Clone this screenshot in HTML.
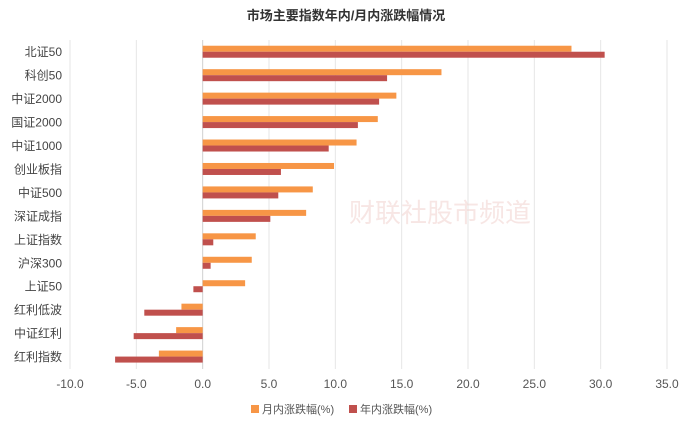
<!DOCTYPE html>
<html><head><meta charset="utf-8"><style>
body{margin:0;background:#fff;font-family:"Liberation Sans","Noto Sans CJK SC",sans-serif;}
</style></head><body>
<svg id="chart" width="692" height="428" xmlns="http://www.w3.org/2000/svg">
<text x="346" y="20" text-anchor="middle" font-size="13" font-weight="bold" fill="#333">市场主要指数年内/月内涨跌幅情况</text>
<g id="grid"></g><g id="bars"></g><g id="labels"></g>
<text x="440" y="222" text-anchor="middle" font-size="26" fill="#f3d6d3" opacity="0.6">财联社股市频道</text>
<g>
<rect x="251" y="405" width="8" height="8" fill="#f79646"/>
<text x="262" y="413" font-size="11" fill="#555">月内涨跌幅(%)</text>
<rect x="349" y="405" width="8" height="8" fill="#c0504d"/>
<text x="360" y="413" font-size="11" fill="#555">年内涨跌幅(%)</text>
</g>
</svg>
<script>
const categories=["北证50","科创50","中证2000","国证2000","中证1000","创业板指","中证500","深证成指","上证指数","沪深300","上证50","红利低波","中证红利","红利指数"];
const monthly=[27.8,18.0,14.6,13.2,11.6,9.9,8.3,7.8,4.0,3.7,3.2,-1.6,-2.0,-3.3];
const yearly=[30.3,13.9,13.3,11.7,9.5,5.9,5.7,5.1,0.8,0.6,-0.7,-4.4,-5.2,-6.6];
const ticks=[-10,-5,0,5,10,15,20,25,30,35];
const NS="http://www.w3.org/2000/svg";
const x0=70,x1=667,vmin=-10,vmax=35;
function xs(v){return x0+(v-vmin)/(vmax-vmin)*(x1-x0);}
const plotTop=40,step=23.45;
function yc(i){return plotTop+step*(i+0.5);}
function mk(tag,attrs,parent){const e=document.createElementNS(NS,tag);for(const k in attrs)e.setAttribute(k,attrs[k]);document.getElementById(parent).appendChild(e);return e;}
ticks.forEach(t=>{
 const l=mk('line',{x1:xs(t),x2:xs(t),y1:plotTop,y2:369,stroke:t===0?'#d0d0d0':'#e6e6e6','stroke-width':1},'grid');
 
 
 const tx=mk('text',{x:xs(t),y:388,'text-anchor':'middle','font-size':12,fill:'#555'},'labels');
 tx.textContent=t.toFixed(1);
 
 
});
categories.forEach((c,i)=>{
 const y=yc(i);
 const tx=mk('text',{x:62,y:y+4.5,'text-anchor':'end','font-size':12,fill:'#444'},'labels');
 tx.textContent=c;
 
 
 const m=monthly[i],a=yearly[i];
 const b1=mk('rect',{x:Math.min(xs(0),xs(m)),y:y-6,width:Math.abs(xs(m)-xs(0)),height:6,fill:'#f79646'},'bars');
 
 
 const b2=mk('rect',{x:Math.min(xs(0),xs(a)),y:y,width:Math.abs(xs(a)-xs(0)),height:6,fill:'#c0504d'},'bars');
 
 
});
</script>
</body></html>
